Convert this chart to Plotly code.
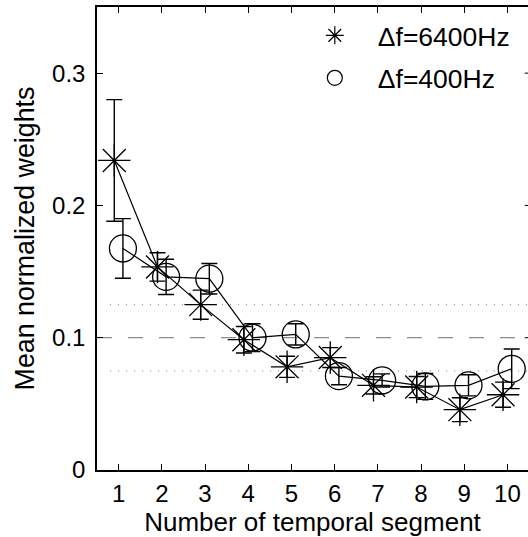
import plotly.graph_objects as go

# ---- data ----
segments = [1, 2, 3, 4, 5, 6, 7, 8, 9, 10]
w_6400 = [0.234, 0.1535, 0.125, 0.0985, 0.078, 0.085, 0.064, 0.0627, 0.0456, 0.0569]
err_6400 = [0.046, 0.0107, 0.011, 0.010, 0.008, 0.0075, 0.0065, 0.008, 0.009, 0.0095]
w_400 = [0.1675, 0.146, 0.1446, 0.100, 0.1025, 0.071, 0.0677, 0.0632, 0.064, 0.0765]
err_400 = [0.0225, 0.0133, 0.0115, 0.0105, 0.008, 0.0065, 0.005, 0.0098, 0.008, 0.015]
label_6400 = "\u0394f=6400Hz"
label_400 = "\u0394f=400Hz"
ref_levels = [0.075, 0.1, 0.125]
y_ticks = [0, 0.1, 0.2, 0.3]

dodge = 0.1
FONT = "Liberation Sans, Arial, Helvetica, sans-serif"
FS_TICK = 24
FS_XTITLE = 26
FS_YTITLE = 26.8
FS_LEG = 26.5

fig = go.Figure()

fig.add_trace(go.Scatter(
    x=[s - dodge for s in segments], y=w_6400,
    mode="lines+markers",
    line=dict(color="black", width=1.2),
    marker=dict(symbol="asterisk-open", size=27, color="black",
                line=dict(color="black", width=1.3)),
    error_y=dict(type="data", array=err_6400, color="black", thickness=1.4, width=8),
    showlegend=False,
))
fig.add_trace(go.Scatter(
    x=[s + dodge for s in segments], y=w_400,
    mode="lines+markers",
    line=dict(color="black", width=1.2),
    marker=dict(symbol="circle-open", size=27, color="black",
                line=dict(color="black", width=1.3)),
    error_y=dict(type="data", array=err_400, color="black", thickness=1.4, width=8),
    showlegend=False,
))
# legend entries (markers only)
fig.add_trace(go.Scatter(
    x=[None], y=[None], mode="markers", name=label_6400, legendgroup="a",
    marker=dict(symbol="asterisk-open", size=15, color="black",
                line=dict(color="black", width=1.2)),
))
fig.add_trace(go.Scatter(
    x=[None], y=[None], mode="markers", name=label_400, legendgroup="b",
    marker=dict(symbol="circle-open", size=15, color="black",
                line=dict(color="black", width=1.2)),
))

shapes = []
for lv in ref_levels:
    if lv == 0.1:
        shapes.append(dict(type="line", xref="paper", x0=0, x1=1, yref="y", y0=lv, y1=lv,
                           line=dict(color="#8c8c8c", width=1.3, dash="15px,16px"), layer="below"))
    else:
        shapes.append(dict(type="line", xref="paper", x0=0.03, x1=1, yref="y", y0=lv, y1=lv,
                           line=dict(color="#9a9a9a", width=1.2, dash="1px,7px"), layer="below"))
# right-hand inward ticks (axis itself lies just outside the visible window)
for t in y_ticks[1:]:
    shapes.append(dict(type="line", xref="paper", x0=0.9925, x1=1.0, yref="y", y0=t, y1=t,
                       line=dict(color="black", width=1)))

fig.update_layout(
    width=528, height=537,
    margin=dict(l=97, r=0, t=7, b=67),
    paper_bgcolor="white", plot_bgcolor="white",
    font=dict(family=FONT, size=FS_TICK, color="black"),
    shapes=shapes,
    showlegend=True,
    legend=dict(x=0.452, y=0.99, xanchor="left", yanchor="top",
                bgcolor="rgba(0,0,0,0)", borderwidth=0,
                font=dict(family=FONT, size=FS_LEG, color="black"),
                itemwidth=76, tracegroupgap=5),
    xaxis=dict(range=[0.5, 10.477], tickmode="array", tickvals=segments,
               ticktext=[str(s) for s in segments],
               ticks="inside", ticklen=6, tickwidth=1, tickcolor="black",
               showline=True, linecolor="black", linewidth=1.5, mirror="ticks",
               showgrid=False, zeroline=False,
               tickfont=dict(family=FONT, size=FS_TICK),
               ticklabelstandoff=1, automargin=False,
               title=dict(text="Number of temporal segment", standoff=13,
                          font=dict(family=FONT, size=FS_XTITLE))),
    yaxis=dict(range=[0, 0.35], tickmode="array", tickvals=y_ticks,
               ticktext=["0", "0.1", "0.2", "0.3"],
               ticks="inside", ticklen=6, tickwidth=1, tickcolor="black",
               showline=True, linecolor="black", linewidth=1.5,
               showgrid=False, zeroline=False,
               tickfont=dict(family=FONT, size=FS_TICK),
               ticklabelstandoff=5, automargin=False,
               title=dict(text="Mean normalized weights", standoff=10,
                          font=dict(family=FONT, size=FS_YTITLE))),
)

fig.write_html("out.html", config={"displayModeBar": False},
               post_script="document.body.style.margin='0';document.body.style.overflow='hidden';")
